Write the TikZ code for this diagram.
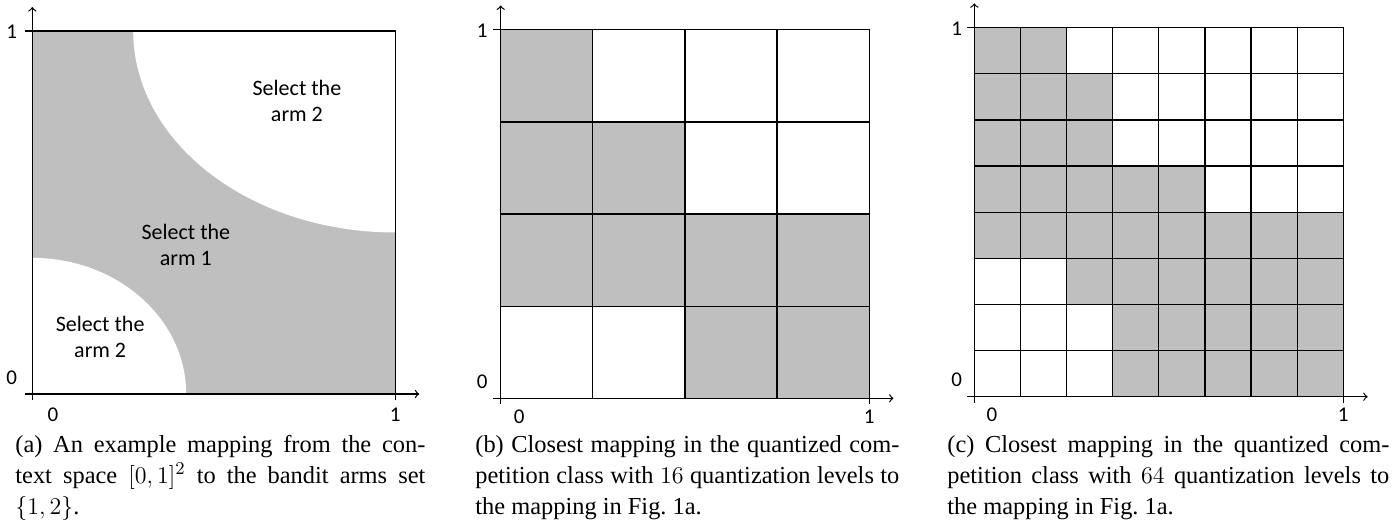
\documentclass[tikz,border=0pt]{standalone}
\usepackage{fontspec}
\setmainfont{Liberation Serif}
\newfontfamily\calib{Carlito}
\definecolor{armone}{RGB}{191,191,191}
\newcommand\captfont{\fontsize{12.2}{15.5}\selectfont\setlength{\baselineskip}{15.5pt}}
\begin{document}
\begin{tikzpicture}[x=0.5pt,y=0.5pt,
    ax/.style={->,line width=0.6pt},
    frm/.style={line width=0.6pt},
    lvl/.style={font=\calib\fontsize{10.5}{12}\selectfont,inner sep=0pt},
    region/.style={font=\calib\fontsize{11}{13}\selectfont,align=center,inner sep=0pt},
    capt/.style={anchor=base west,inner sep=0pt,align=justify,font=\captfont}]
  \useasboundingbox (0,0) rectangle (1392,521);
  % (a) the mapping itself: arm 1 in grey, arm 2 in the two white corners
  \begin{scope}[shift={(32.3,127)},scale=363]
    \fill[armone] (0,0) rectangle (1,1);
    \fill[white] (1,1) -- (0.278,1)
      arc[start angle=180,end angle=270,x radius=0.722,y radius=0.555] -- cycle;
    \fill[white] (0,0) -- (0,0.375)
      arc[start angle=90,end angle=0,x radius=0.424,y radius=0.375] -- cycle;
    \node[region] (top2) at (0.729,0.807) {Select the\\arm 2};
    \node[region] (mid1) at (0.423,0.410) {Select the\\arm 1};
    \node[region] (low2) at (0.187,0.158) {Select the\\arm 2};
  \end{scope}
  % (b) 4x4 cells, row/from/to of the grey run
  \begin{scope}[shift={(500.7,122.7)},scale=368.5]
    \foreach \r/\f/\t in {4/1/1,3/1/2,2/1/4,1/3/4}
      \fill[armone] ({(\f-1)/4},{(\r-1)/4}) rectangle ({\t/4},{\r/4});
    \foreach \k in {1,2,3}
      \draw[frm] (\k/4,0) -- (\k/4,1) (0,\k/4) -- (1,\k/4);
  \end{scope}
  % (c) 8x8 cells
  \begin{scope}[shift={(974.3,124.3)},scale=369]
    \foreach \r/\f/\t in {8/1/2,7/1/3,6/1/3,5/1/5,4/1/8,3/3/8,2/4/8,1/4/8}
      \fill[armone] ({(\f-1)/8},{(\r-1)/8}) rectangle ({\t/8},{\r/8});
    \foreach \k in {1,...,7}
      \draw[frm] (\k/8,0) -- (\k/8,1) (0,\k/8) -- (1,\k/8);
  \end{scope}
  % frames, axes and the 0/1 levels, same for all three
  \foreach \p/\dx/\dy/\s/\lo in {a/32.3/127/363/-0.057,
      b/500.7/122.7/368.5/-0.050, c/974.3/124.3/369/-0.048}{
    \begin{scope}[shift={(\dx,\dy)},scale=\s]
      \draw[frm] (0,0) rectangle (1,1);
      \draw[ax] (-0.02,0) -- (1.066,0);
      \draw[ax] (0,-0.016) -- (0,1.066);
      \draw[frm] (1,0) -- (1,-0.016) (0,1) -- (-0.02,1);
      \node[lvl] (y1\p) at (\lo,0.998) {1};
      \node[lvl] (y0\p) at (\lo,0.045) {0};
      \node[lvl] (x0\p) at (-\lo,\lo) {0};
      \node[lvl] (x1\p) at (1,\lo) {1};
    \end{scope}
  }
  % sub-captions
  \node[capt,text width=205pt] (capa) at (15,69)
    {(a) An example mapping from the con-\linebreak
     text space $[0,1]^2$ to the bandit arms set\linebreak
     $\{1,2\}$.};
  \node[capt,text width=212pt] (capb) at (475,69)
    {(b) Closest mapping in the quantized com-\linebreak
     petition class with $16$ quantization levels to\linebreak
     the mapping in Fig.~1a.};
  \node[capt,text width=221pt] (capc) at (947,69)
    {(c) Closest mapping in the quantized com-\linebreak
     petition class with $64$ quantization levels to\linebreak
     the mapping in Fig.~1a.};
\end{tikzpicture}
\end{document}
